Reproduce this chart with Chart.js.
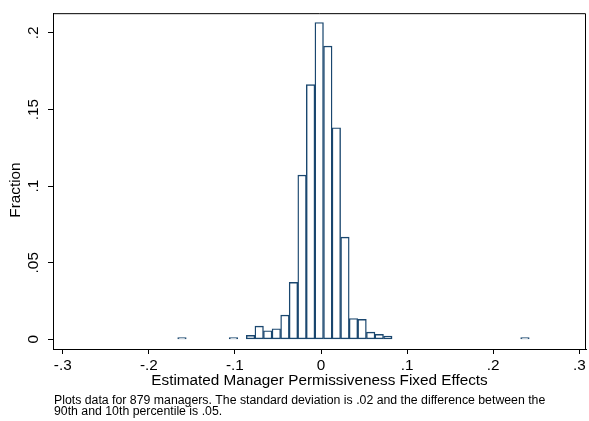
<!DOCTYPE html>
<html>
<head>
<meta charset="utf-8">
<script src="https://cdn.jsdelivr.net/npm/chart.js@4.4.0/dist/chart.umd.min.js"></script>
<style>
  html, body { margin: 0; padding: 0; background: #fff; }
</style>
</head>
<body>
<canvas id="feHist" width="589" height="421"></canvas>
<script>
// histogram bins (midpoints, bin width ~.00996) and share of managers in each
const binCenters = [-0.1615, -0.1017, -0.0818, -0.0718, -0.0619, -0.0519, -0.0419, -0.0320,
   -0.0220, -0.0121, -0.0021, 0.0079, 0.0178, 0.0278, 0.0377, 0.0477, 0.0577, 0.0676, 0.0776, 0.2369];
const fractions = [0.0011, 0.0011, 0.0026, 0.0086, 0.0056, 0.0069, 0.0158, 0.0372,
   0.1072, 0.1663, 0.2068, 0.1914, 0.1381, 0.0667, 0.0136, 0.0130, 0.0047, 0.0032, 0.0021, 0.0011];
const xTicks = [-0.3, -0.2, -0.1, 0, 0.1, 0.2, 0.3];
const yTicks = [0, 0.05, 0.1, 0.15, 0.2];

const yTitle = 'Fraction';
const noteLines = [
   'Plots data for 879 managers. The standard deviation is .02 and the difference between the',
   '90th and 10th percentile is .05.'
];

const FONT = "'Liberation Sans', Arial, Helvetica, sans-serif";
const LABEL_SIZE = 15.3;

// stata style labels: .1 instead of 0.1
function stataNum(v) {
   if (v === 0) return '0';
   return String(Math.round(v * 1000) / 1000).replace('0.', '.');
}

// box around the plot region, y title and footnote
const frameAndNote = {
   id: 'frameAndNote',
   afterDraw(chart) {
      const { ctx, chartArea: a } = chart;
      ctx.save();
      ctx.strokeStyle = '#000';
      ctx.lineWidth = 1;
      ctx.beginPath();
      ctx.moveTo(a.left, a.top + 0.5);
      ctx.lineTo(a.right - 0.5, a.top + 0.5);
      ctx.lineTo(a.right - 0.5, a.bottom);
      ctx.stroke();

      ctx.fillStyle = '#000';

      // y title sits a bit below the middle of the axis, like stata puts it
      ctx.save();
      ctx.translate(16, 190);
      ctx.rotate(-Math.PI / 2);
      ctx.font = LABEL_SIZE + 'px ' + FONT;
      ctx.textAlign = 'center';
      ctx.textBaseline = 'middle';
      ctx.fillText(yTitle, 0, 0);
      ctx.restore();

      ctx.font = '12.3px ' + FONT;
      ctx.textBaseline = 'alphabetic';
      ctx.textAlign = 'left';
      noteLines.forEach((line, i) => {
         ctx.fillText(line, 54, 404 + i * 11);
      });
      ctx.restore();
   }
};

const ctx = document.getElementById('feHist').getContext('2d');

new Chart(ctx, {
   type: 'bar',
   data: {
      datasets: [{
         data: binCenters.map((c, i) => ({ x: c, y: fractions[i] })),
         backgroundColor: '#ffffff',
         borderColor: '#1a476f',
         borderWidth: 1.4,
         borderSkipped: false,
         barPercentage: 1,
         categoryPercentage: 1
      }]
   },
   options: {
      responsive: false,
      animation: false,
      layout: { padding: { top: 12, right: 3, bottom: 0, left: 0 } },
      plugins: {
         legend: { display: false },
         tooltip: { enabled: false }
      },
      scales: {
         x: {
            type: 'linear',
            offset: false,
            min: -0.3113,
            max: 0.3078,
            afterBuildTicks: scale => { scale.ticks = xTicks.map(v => ({ value: v })); },
            afterFit: scale => { scale.height = 72; },
            grid: { drawOnChartArea: false, offset: false, tickLength: 5, color: '#000', tickWidth: 1 },
            border: { color: '#000', width: 1 },
            ticks: {
               color: '#000',
               font: { family: FONT, size: LABEL_SIZE },
               padding: 3,
               maxRotation: 0,
               autoSkip: false,
               callback: v => stataNum(v)
            },
            title: {
               display: true,
               text: 'Estimated Manager Permissiveness Fixed Effects',
               color: '#000',
               font: { family: FONT, size: LABEL_SIZE },
               padding: { top: 0, bottom: 31 }
            }
         },
         y: {
            min: -0.0063,
            max: 0.2129,
            afterBuildTicks: scale => { scale.ticks = yTicks.map(v => ({ value: v })); },
            afterFit: scale => { scale.width = 53; },
            grid: { drawOnChartArea: false, tickLength: 5, color: '#000', tickWidth: 1 },
            border: { color: '#000', width: 1 },
            ticks: {
               color: '#000',
               font: { family: FONT, size: LABEL_SIZE },
               padding: 4,
               minRotation: 90,
               maxRotation: 90,
               crossAlign: 'center',
               autoSkip: false,
               callback: v => stataNum(v)
            }
         }
      }
   },
   plugins: [frameAndNote]
});
</script>
</body>
</html>
